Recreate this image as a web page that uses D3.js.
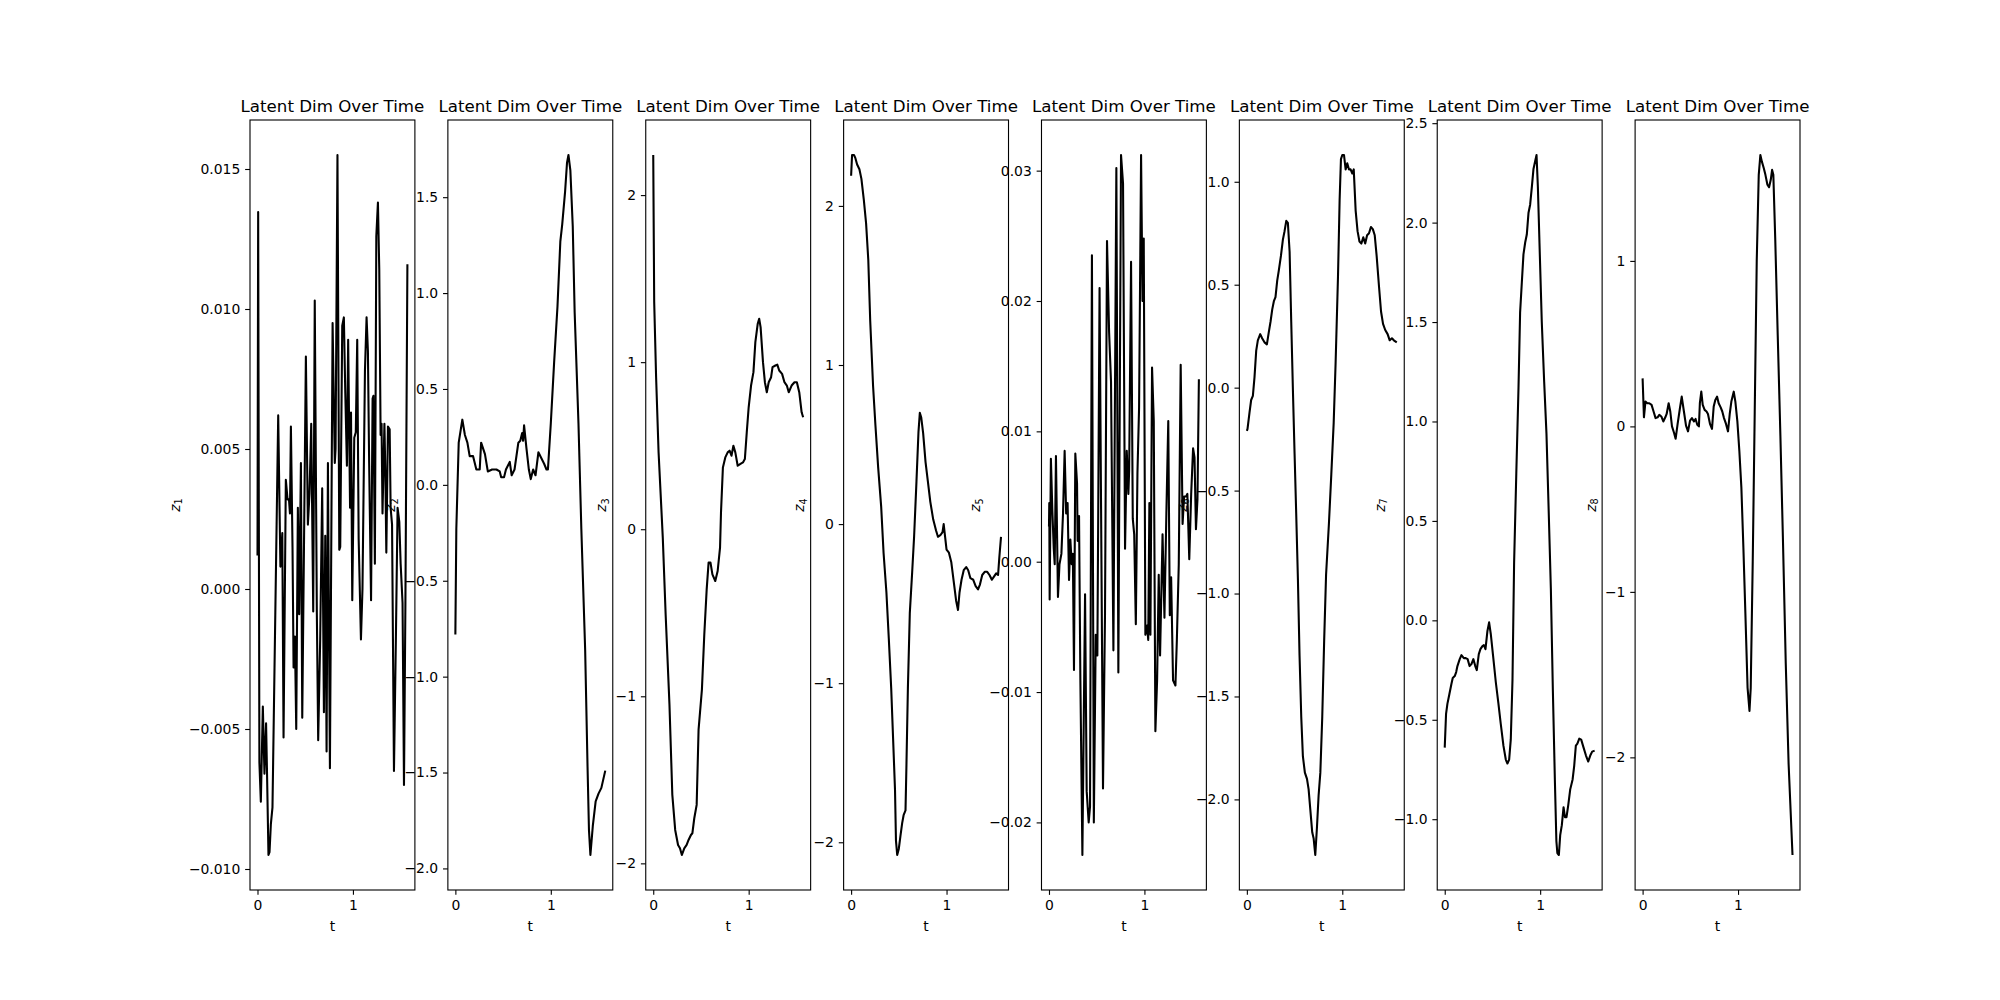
<!DOCTYPE html>
<html>
<head>
<meta charset="utf-8">
<script src="https://cdn.jsdelivr.net/npm/d3@7"></script>
<style>
  body { margin: 0; background: #fff; }
  text { font-family: "DejaVu Sans", sans-serif; }
</style>
</head>
<body>
<script>
// series values: [t, z]
const z1 = [[0,0.0012],[0.007,0.01346],[0.02,-0.0062],[0.035,-0.0076],[0.056,-0.0042],[0.073,-0.0066],[0.09,-0.0048],[0.1,-0.0066],[0.115,-0.0095],[0.126,-0.0094],[0.14,-0.0084],[0.157,-0.0078],[0.217,0.0062],[0.24,0.0008],[0.26,0.0020],[0.273,-0.0053],[0.297,0.0039],[0.315,0.0032],[0.33,0.0032],[0.34,0.0027],[0.35,0.0058],[0.367,0.0015],[0.378,-0.0028],[0.392,-0.0017],[0.406,-0.005],[0.423,0.0029],[0.437,-0.0009],[0.455,0.0045],[0.469,-0.0046],[0.507,0.0083],[0.528,0.0023],[0.545,0.0034],[0.563,0.0059],[0.584,-0.0008],[0.60,0.0103],[0.622,-0.0009],[0.636,-0.0054],[0.657,-0.0018],[0.678,0.0036],[0.696,-0.0044],[0.71,0.0019],[0.724,-0.0058],[0.738,0.0045],[0.759,-0.0064],[0.787,0.0095],[0.81,0.0045],[0.818,0.005],[0.838,0.0155],[0.857,0.0014],[0.867,0.0015],[0.888,0.0094],[0.905,0.0097],[0.92,0.0070],[0.937,0.0044],[0.95,0.0089],[0.97,0.0029],[0.98,0.0063],[0.993,-0.0004],[1.014,0.0054],[1.03,0.0056],[1.045,0.0089],[1.06,0.0018],[1.084,-0.0018],[1.10,0.0000],[1.126,0.0078],[1.143,0.0097],[1.157,0.0085],[1.17,0.0045],[1.19,-0.0004],[1.206,0.0068],[1.215,0.0069],[1.23,0.0009],[1.245,0.0126],[1.262,0.0138],[1.276,0.0114],[1.29,0.0055],[1.30,0.0059],[1.31,0.0027],[1.33,0.0059],[1.34,0.0041],[1.35,0.0013],[1.367,0.0058],[1.385,0.0057],[1.395,0.0029],[1.41,0.0023],[1.43,-0.0065],[1.45,-0.0018],[1.468,0.0029],[1.486,0.0024],[1.50,0.0009],[1.52,-0.0005],[1.535,-0.0070],[1.55,-0.0005],[1.5708,0.0116]]

const z2 = [[0,-0.78],[0.01,-0.23],[0.035,0.22],[0.073,0.34],[0.1,0.26],[0.126,0.22],[0.15,0.15],[0.185,0.15],[0.22,0.08],[0.255,0.08],[0.27,0.22],[0.31,0.16],[0.34,0.07],[0.385,0.08],[0.43,0.08],[0.465,0.07],[0.48,0.04],[0.51,0.04],[0.53,0.08],[0.57,0.12],[0.59,0.05],[0.62,0.08],[0.66,0.22],[0.68,0.23],[0.70,0.27],[0.71,0.23],[0.72,0.31],[0.745,0.19],[0.77,0.08],[0.79,0.03],[0.815,0.08],[0.84,0.05],[0.87,0.17],[0.90,0.14],[0.93,0.11],[0.955,0.08],[0.97,0.08],[1.0,0.32],[1.035,0.64],[1.07,0.93],[1.10,1.27],[1.12,1.36],[1.15,1.53],[1.17,1.68],[1.185,1.72],[1.205,1.64],[1.23,1.35],[1.25,0.90],[1.29,0.32],[1.32,-0.23],[1.36,-0.86],[1.385,-1.47],[1.40,-1.80],[1.415,-1.93],[1.44,-1.78],[1.47,-1.65],[1.50,-1.61],[1.53,-1.58],[1.5708,-1.49]]

const z3 = [[0,2.24],[0.01,1.36],[0.03,0.91],[0.056,0.46],[0.1,-0.05],[0.13,-0.51],[0.17,-1.05],[0.2,-1.59],[0.23,-1.80],[0.26,-1.89],[0.28,-1.91],[0.30,-1.95],[0.325,-1.91],[0.35,-1.89],[0.37,-1.86],[0.395,-1.83],[0.41,-1.82],[0.43,-1.73],[0.455,-1.65],[0.475,-1.20],[0.51,-0.96],[0.535,-0.63],[0.56,-0.36],[0.58,-0.20],[0.6,-0.20],[0.62,-0.27],[0.65,-0.31],[0.675,-0.25],[0.70,-0.11],[0.71,0.10],[0.73,0.37],[0.755,0.43],[0.78,0.46],[0.80,0.47],[0.82,0.44],[0.84,0.50],[0.86,0.46],[0.885,0.38],[0.91,0.39],[0.94,0.40],[0.96,0.42],[0.98,0.58],[1.0,0.73],[1.025,0.86],[1.05,0.94],[1.07,1.12],[1.095,1.23],[1.11,1.26],[1.125,1.21],[1.15,1.0],[1.17,0.88],[1.19,0.82],[1.21,0.88],[1.235,0.91],[1.25,0.97],[1.28,0.98],[1.30,0.985],[1.32,0.95],[1.35,0.93],[1.375,0.88],[1.40,0.86],[1.42,0.82],[1.45,0.86],[1.48,0.88],[1.505,0.88],[1.53,0.82],[1.555,0.70],[1.5708,0.67]]

const z4 = [[0,2.19],[0.01,2.32],[0.03,2.32],[0.045,2.30],[0.063,2.26],[0.087,2.23],[0.108,2.17],[0.133,2.04],[0.157,1.89],[0.18,1.66],[0.20,1.28],[0.23,0.87],[0.255,0.62],[0.283,0.36],[0.315,0.11],[0.34,-0.18],[0.37,-0.43],[0.395,-0.72],[0.42,-1.03],[0.44,-1.35],[0.46,-1.67],[0.47,-1.99],[0.483,-2.08],[0.50,-2.04],[0.517,-1.96],[0.535,-1.88],[0.55,-1.83],[0.57,-1.80],[0.58,-1.51],[0.595,-1.03],[0.615,-0.56],[0.64,-0.30],[0.66,-0.08],[0.685,0.27],[0.706,0.58],[0.72,0.70],[0.735,0.67],[0.755,0.57],[0.78,0.39],[0.804,0.27],[0.83,0.14],[0.86,0.03],[0.89,-0.04],[0.91,-0.08],[0.935,-0.07],[0.958,-0.05],[0.97,0.0],[0.985,-0.08],[1.0,-0.16],[1.025,-0.18],[1.05,-0.24],[1.077,-0.37],[1.10,-0.48],[1.12,-0.54],[1.136,-0.43],[1.157,-0.35],[1.18,-0.29],[1.206,-0.27],[1.227,-0.29],[1.25,-0.34],[1.28,-0.35],[1.305,-0.39],[1.33,-0.41],[1.35,-0.38],[1.374,-0.32],[1.40,-0.30],[1.426,-0.30],[1.45,-0.32],[1.475,-0.35],[1.497,-0.33],[1.52,-0.31],[1.54,-0.32],[1.553,-0.21],[1.5708,-0.08]]

const z5 = [[0,0.0027],[0.003,0.0045],[0.007,-0.0029],[0.02,0.0079],[0.035,0.004],[0.05,0.001],[0.06,-0.0002],[0.073,0.0081],[0.094,-0.0027],[0.11,-0.0002],[0.13,0.0006],[0.147,0.0037],[0.164,0.0085],[0.18,0.0037],[0.195,0.0045],[0.21,-0.0014],[0.224,0.0017],[0.238,-0.0002],[0.25,0.0006],[0.262,-0.0083],[0.276,0.0083],[0.294,0.006],[0.30,0.0016],[0.315,0.0035],[0.329,-0.0091],[0.35,-0.0225],[0.378,-0.0025],[0.395,-0.0176],[0.416,-0.020],[0.43,-0.0188],[0.45,0.0235],[0.47,-0.020],[0.49,-0.0056],[0.507,-0.0072],[0.53,0.021],[0.566,-0.0174],[0.587,-0.004],[0.608,0.0246],[0.63,0.0176],[0.65,0.0138],[0.675,-0.0068],[0.706,0.0302],[0.727,-0.0085],[0.755,0.0312],[0.776,0.029],[0.797,0.001],[0.815,0.0085],[0.832,0.0052],[0.84,0.007],[0.86,0.023],[0.878,0.0033],[0.893,0.0021],[0.91,-0.0048],[0.927,0.0068],[0.944,0.0118],[0.965,0.0312],[0.98,0.020],[0.993,0.0248],[1.01,-0.0056],[1.028,-0.0049],[1.04,-0.006],[1.052,0.0045],[1.063,-0.0056],[1.08,0.0149],[1.098,0.0108],[1.115,-0.013],[1.133,-0.0091],[1.15,-0.001],[1.164,-0.0072],[1.19,0.0021],[1.21,-0.0043],[1.23,0.0037],[1.25,0.0108],[1.266,-0.0041],[1.28,-0.0012],[1.30,-0.0091],[1.325,-0.0095],[1.34,-0.006],[1.36,-0.0002],[1.38,0.0151],[1.40,0.0029],[1.416,0.005],[1.437,0.005],[1.45,0.0052],[1.47,0.0002],[1.49,0.0052],[1.51,0.0087],[1.525,0.008],[1.54,0.0025],[1.556,0.0048],[1.5708,0.014]]

const z6 = [[0,-0.21],[0.007,-0.20],[0.028,-0.12],[0.045,-0.06],[0.063,-0.04],[0.08,0.05],[0.098,0.18],[0.115,0.23],[0.14,0.26],[0.16,0.24],[0.185,0.22],[0.21,0.21],[0.23,0.27],[0.248,0.32],[0.266,0.38],[0.283,0.42],[0.30,0.44],[0.318,0.52],[0.335,0.57],[0.357,0.64],[0.378,0.72],[0.395,0.76],[0.413,0.81],[0.43,0.80],[0.448,0.66],[0.465,0.32],[0.483,-0.02],[0.50,-0.32],[0.517,-0.61],[0.535,-0.93],[0.552,-1.30],[0.57,-1.60],[0.587,-1.79],[0.608,-1.87],[0.63,-1.90],[0.647,-1.95],[0.665,-2.05],[0.685,-2.16],[0.70,-2.19],[0.717,-2.27],[0.734,-2.14],[0.752,-1.98],[0.77,-1.87],[0.79,-1.60],[0.81,-1.23],[0.83,-0.91],[0.86,-0.66],[0.885,-0.42],[0.91,-0.17],[0.93,0.12],[0.955,0.54],[0.972,0.91],[0.986,1.11],[1.0,1.13],[1.018,1.13],[1.035,1.06],[1.052,1.09],[1.07,1.06],[1.087,1.06],[1.105,1.04],[1.12,1.06],[1.14,0.86],[1.16,0.76],[1.18,0.71],[1.20,0.70],[1.22,0.73],[1.24,0.70],[1.26,0.74],[1.28,0.75],[1.30,0.78],[1.32,0.77],[1.34,0.74],[1.36,0.64],[1.385,0.49],[1.406,0.37],[1.427,0.31],[1.45,0.28],[1.475,0.26],[1.497,0.23],[1.52,0.24],[1.54,0.23],[1.5708,0.22]]

const z7 = [[0,-0.64],[0.014,-0.47],[0.028,-0.42],[0.049,-0.37],[0.07,-0.32],[0.084,-0.29],[0.105,-0.28],[0.12,-0.26],[0.133,-0.23],[0.157,-0.195],[0.175,-0.175],[0.2,-0.19],[0.22,-0.19],[0.24,-0.195],[0.26,-0.23],[0.28,-0.22],[0.30,-0.195],[0.32,-0.23],[0.336,-0.25],[0.357,-0.17],[0.374,-0.145],[0.395,-0.13],[0.41,-0.125],[0.427,-0.145],[0.447,-0.055],[0.465,-0.01],[0.483,-0.07],[0.507,-0.18],[0.535,-0.31],[0.563,-0.42],[0.587,-0.52],[0.615,-0.63],[0.64,-0.70],[0.657,-0.72],[0.675,-0.70],[0.692,-0.60],[0.71,-0.30],[0.727,0.29],[0.75,0.74],[0.773,1.17],[0.79,1.55],[0.808,1.70],[0.825,1.84],[0.843,1.90],[0.86,1.94],[0.878,2.05],[0.895,2.09],[0.913,2.18],[0.93,2.27],[0.948,2.31],[0.962,2.34],[0.976,2.18],[0.997,1.83],[1.017,1.50],[1.042,1.20],[1.066,0.94],[1.09,0.54],[1.112,0.16],[1.133,-0.35],[1.154,-0.80],[1.17,-1.11],[1.18,-1.17],[1.196,-1.18],[1.21,-1.08],[1.227,-1.03],[1.245,-0.94],[1.26,-0.99],[1.276,-0.99],[1.294,-0.93],[1.315,-0.85],[1.34,-0.80],[1.357,-0.73],[1.374,-0.63],[1.39,-0.62],[1.41,-0.595],[1.43,-0.60],[1.455,-0.64],[1.48,-0.68],[1.504,-0.71],[1.525,-0.68],[1.545,-0.66],[1.5708,-0.655]]

const z8 = [[0,0.29],[0.014,0.055],[0.03,0.15],[0.049,0.14],[0.07,0.14],[0.094,0.13],[0.115,0.09],[0.136,0.05],[0.157,0.055],[0.175,0.07],[0.196,0.06],[0.217,0.03],[0.238,0.055],[0.252,0.075],[0.273,0.14],[0.29,0.09],[0.308,0.0],[0.33,-0.04],[0.346,-0.075],[0.367,0.015],[0.39,0.105],[0.41,0.18],[0.433,0.09],[0.455,0.005],[0.476,-0.03],[0.497,0.035],[0.517,0.05],[0.538,0.03],[0.555,0.045],[0.573,0.01],[0.59,0.0],[0.60,0.14],[0.615,0.21],[0.63,0.13],[0.65,0.10],[0.67,0.09],[0.685,0.075],[0.706,0.015],[0.727,-0.015],[0.745,0.12],[0.762,0.16],[0.78,0.18],[0.797,0.14],[0.818,0.115],[0.835,0.09],[0.853,0.05],[0.874,0.015],[0.895,-0.03],[0.913,0.075],[0.93,0.15],[0.955,0.21],[0.972,0.15],[0.993,0.03],[1.014,-0.15],[1.035,-0.37],[1.056,-0.73],[1.077,-1.13],[1.10,-1.58],[1.12,-1.72],[1.133,-1.58],[1.154,-0.82],[1.175,0.09],[1.196,1.0],[1.217,1.52],[1.234,1.64],[1.25,1.60],[1.27,1.56],[1.287,1.52],[1.308,1.46],[1.325,1.445],[1.343,1.49],[1.357,1.55],[1.37,1.52],[1.39,1.13],[1.416,0.55],[1.444,-0.06],[1.47,-0.67],[1.50,-1.43],[1.53,-2.04],[1.5708,-2.59]]

const series = [z1, z2, z3, z4, z5, z6, z7, z8]
const xTicks = [0, 1]
const yTicks = [
    [-0.010, -0.005, 0, 0.005, 0.010, 0.015],
    [-2.0, -1.5, -1.0, -0.5, 0, 0.5, 1.0, 1.5],
    [-2, -1, 0, 1, 2],
    [-2, -1, 0, 1, 2],
    [-0.02, -0.01, 0, 0.01, 0.02, 0.03],
    [-2.0, -1.5, -1.0, -0.5, 0, 0.5, 1.0],
    [-1.0, -0.5, 0, 0.5, 1.0, 1.5, 2.0, 2.5],
    [-2, -1, 0, 1]
]
const yDecimals = [3, 1, 0, 0, 2, 1, 1, 0]
const title = 'Latent Dim Over Time'

const WIDTH = 2000
const HEIGHT = 1000
const fig = { left: 250, right: 1800, top: 120, bottom: 890 }
const wspace = 0.2
const n = series.length
const axW = (fig.right - fig.left) / (n + (n - 1) * wspace)
const gap = axW * wspace
const lw = 1.11
const tickLen = 4.86
const fs = 13.9

const svg = d3.select('body').append('svg')
    .attr('width', WIDTH)
    .attr('height', HEIGHT)

svg.append('rect').attr('width', WIDTH).attr('height', HEIGHT).attr('fill', '#fff')

series.forEach(function(data, i) {
    const left = fig.left + i * (axW + gap)
    const right = left + axW

    const tx = d3.extent(data, d => d[0])
    const ty = d3.extent(data, d => d[1])
    const px = (tx[1] - tx[0]) * 0.05
    const py = (ty[1] - ty[0]) * 0.05

    const x = d3.scaleLinear().domain([tx[0] - px, tx[1] + px]).range([left, right])
    const y = d3.scaleLinear().domain([ty[0] - py, ty[1] + py]).range([fig.bottom, fig.top])

    const g = svg.append('g')

    g.append('path')
        .datum(data)
        .attr('fill', 'none')
        .attr('stroke', '#000')
        .attr('stroke-width', 2.08)
        .attr('stroke-linejoin', 'round')
        .attr('d', d3.line().x(d => x(d[0])).y(d => y(d[1])))

    g.append('rect')
        .attr('x', left).attr('y', fig.top)
        .attr('width', axW).attr('height', fig.bottom - fig.top)
        .attr('fill', 'none').attr('stroke', '#000').attr('stroke-width', lw)

    const xAxis = g.append('g')
        .attr('transform', `translate(0,${fig.bottom})`)
        .call(d3.axisBottom(x).tickValues(xTicks).tickFormat(d3.format('d'))
            .tickSize(tickLen).tickPadding(tickLen))
    const yAxis = g.append('g')
        .attr('transform', `translate(${left},0)`)
        .call(d3.axisLeft(y).tickValues(yTicks[i]).tickFormat(d3.format(`.${yDecimals[i]}f`))
            .tickSize(tickLen).tickPadding(tickLen))

    ;[xAxis, yAxis].forEach(a => {
        a.select('.domain').remove()
        a.attr('font-family', null).attr('font-size', null)
        a.selectAll('line').attr('stroke', '#000').attr('stroke-width', lw)
        a.selectAll('text').attr('fill', '#000').style('font-size', fs + 'px')
    })

    let maxW = 0
    yAxis.selectAll('text').each(function() {
        maxW = Math.max(maxW, this.getComputedTextLength())
    })

    g.append('text')
        .attr('x', (left + right) / 2)
        .attr('y', fig.top - 8.33)
        .attr('text-anchor', 'middle')
        .style('font-size', '16.67px')
        .text(title)

    g.append('text')
        .attr('x', (left + right) / 2)
        .attr('y', 931)
        .attr('text-anchor', 'middle')
        .style('font-size', fs + 'px')
        .text('t')

    const lx = left - tickLen * 2 - maxW - 5.56 - 3.5
    const yl = g.append('text')
        .attr('transform', `translate(${lx},${(fig.top + fig.bottom) / 2}) rotate(-90)`)
        .attr('text-anchor', 'middle')
        .style('font-size', fs + 'px')
    yl.append('tspan').attr('font-style', 'italic').text('z')
    yl.append('tspan').style('font-size', '9.7px').attr('dy', 2.6).text(i + 1)
})
</script>
</body>
</html>
